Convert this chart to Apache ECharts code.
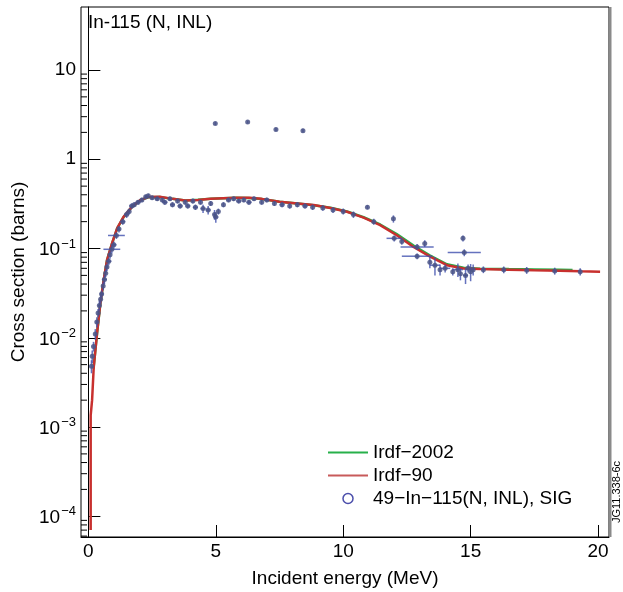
<!DOCTYPE html>
<html><head><meta charset="utf-8">
<script src="https://cdn.jsdelivr.net/npm/echarts@6/dist/echarts.min.js"></script>
<style>html,body{margin:0;padding:0;background:#fff}#c{width:623px;height:592px}</style>
</head><body><div id="c"></div>
<script>
// ---- data ----
const irdf90E   = [0.09, 0.09, 0.145, 0.21, 0.34, 0.47, 0.6, 0.73, 0.93, 1.13, 1.38, 1.71, 2.04, 2.35, 2.8, 3.3, 3.8, 4.3, 4.8, 5.3, 5.8, 6.3, 6.8, 7.5, 8.2, 8.84, 9.5, 10.15, 10.8, 11.45, 12.1, 12.76, 13.41, 14.07, 14.72, 15.37, 16.5, 17.5, 18.5, 19.3, 20.08];
const irdf90Sig = [7e-5, 1.35e-3, 2.0e-3, 4.7e-3, 0.0113, 0.0244, 0.0443, 0.074, 0.115, 0.169, 0.226, 0.293, 0.349, 0.377, 0.38, 0.36, 0.345, 0.35, 0.36, 0.365, 0.37, 0.37, 0.36, 0.335, 0.32, 0.307, 0.285, 0.258, 0.222, 0.183, 0.141, 0.104, 0.081, 0.065, 0.0598, 0.0588, 0.058, 0.057, 0.0565, 0.0555, 0.0548];
const irdf2002E   = [0.2, 0.34, 0.47, 0.6, 0.73, 0.93, 1.13, 1.38, 1.71, 2.04, 2.35, 2.8, 3.3, 3.8, 4.3, 4.8, 5.3, 5.8, 6.3, 6.8, 7.5, 8.2, 8.84, 9.5, 10.15, 10.8, 11.45, 12.1, 12.76, 13.41, 14.07, 14.72, 15.37, 16.5, 17.5, 18.5, 19.0];
const irdf2002Sig = [4.5e-3, 0.0112, 0.0242, 0.044, 0.0735, 0.114, 0.168, 0.225, 0.292, 0.348, 0.375, 0.378, 0.36, 0.346, 0.351, 0.361, 0.366, 0.37, 0.369, 0.358, 0.334, 0.319, 0.306, 0.286, 0.26, 0.224, 0.186, 0.145, 0.108, 0.0835, 0.0665, 0.061, 0.0595, 0.0588, 0.0583, 0.0578, 0.0575];
// experimental points: energy, cross section, energy half-width, sigma error
const expE    = [0.12, 0.15, 0.2, 0.27, 0.33, 0.38, 0.43, 0.48, 0.52, 0.58, 0.63, 0.68, 0.73, 0.8, 0.85, 0.92, 1.0, 1.1, 1.2, 1.35, 1.5, 1.6, 1.7, 1.8, 1.95, 2.1, 2.25, 2.35,
                 2.5, 2.7, 2.9, 3.0, 3.2, 3.3, 3.5, 3.6, 3.8, 3.9, 4.1, 4.2, 4.4, 4.5, 4.7, 4.8, 4.95, 5.0, 5.1, 5.3, 5.5, 5.7, 5.9, 6.1, 6.3, 6.5, 6.8, 7.0, 7.3, 7.6, 7.9, 8.2, 8.5, 8.8, 9.2, 9.6, 10.0, 10.4,
                 10.95, 11.2, 11.97, 12.0, 12.3, 12.9, 12.9, 13.2, 13.4, 13.6, 13.8, 14.0, 14.3, 14.5, 14.6, 14.7, 14.75, 14.8, 14.9, 15.0, 15.1, 15.5, 16.3, 17.2, 18.3, 19.3,
                 4.98, 6.25, 7.36, 8.42];
const expSig  = [0.0048, 0.0062, 0.008, 0.011, 0.015, 0.019, 0.023, 0.027, 0.031, 0.038, 0.045, 0.053, 0.062, 0.072, 0.085, 0.098, 0.11, 0.14, 0.165, 0.2, 0.24, 0.26, 0.3, 0.31, 0.33, 0.35, 0.38, 0.39,
                 0.37, 0.36, 0.35, 0.33, 0.36, 0.31, 0.34, 0.30, 0.33, 0.30, 0.34, 0.29, 0.33, 0.28, 0.27, 0.32, 0.24, 0.225, 0.26, 0.31, 0.35, 0.36, 0.34, 0.35, 0.33, 0.36, 0.33, 0.35, 0.32, 0.31, 0.30, 0.31, 0.30, 0.29, 0.285, 0.27, 0.26, 0.24,
                 0.29, 0.2, 0.215, 0.13, 0.12, 0.104, 0.082, 0.114, 0.07, 0.065, 0.058, 0.06, 0.055, 0.058, 0.052, 0.13, 0.09, 0.05, 0.06, 0.055, 0.058, 0.058, 0.058, 0.057, 0.056, 0.055,
                 2.52, 2.61, 2.16, 2.09];
const expDE   = [0, 0, 0, 0, 0.05, 0, 0.06, 0, 0.08, 0, 0.1, 0, 0.05, 0.1, 0, 0.33, 0.1, 0.33, 0.05, 0.1, 0.1, 0, 0.1, 0, 0.1, 0, 0.05, 0,
                 0, 0.1, 0, 0.1, 0, 0.1, 0, 0.1, 0, 0.1, 0, 0.1, 0, 0.1, 0.1, 0, 0.05, 0.1, 0, 0, 0.1, 0, 0.1, 0, 0.1, 0, 0, 0.1, 0, 0.1, 0, 0, 0.1, 0, 0, 0, 0, 0,
                 0, 0, 0, 0.3, 0, 0.65, 0.6, 0, 0, 0.2, 0, 0.2, 0, 0.2, 0, 0, 0.65, 0.1, 0, 0, 0, 0, 0, 0, 0, 0,
                 0, 0, 0, 0];
const expDSig = [0.0008, 0.001, 0.001, 0.0015, 0.002, 0.002, 0.003, 0.003, 0.003, 0.004, 0.005, 0.005, 0.006, 0.007, 0.008, 0.01, 0.01, 0.012, 0.014, 0.015, 0.02, 0.02, 0.02, 0.02, 0.02, 0.02, 0.02, 0.02,
                 0.02, 0.02, 0.02, 0.02, 0.02, 0.02, 0.02, 0.02, 0.02, 0.02, 0.02, 0.02, 0.02, 0.03, 0.03, 0.02, 0.03, 0.03, 0.02, 0.02, 0.02, 0.02, 0.02, 0.02, 0.02, 0.02, 0.02, 0.02, 0.02, 0.02, 0.02, 0.02, 0.02, 0.02, 0.02, 0.02, 0.02, 0.02,
                 0.015, 0.015, 0.02, 0.01, 0.01, 0.008, 0.006, 0.01, 0.01, 0.015, 0.008, 0.006, 0.005, 0.01, 0.008, 0.01, 0.008, 0.01, 0.006, 0.012, 0.008, 0.005, 0.005, 0.005, 0.005, 0.005,
                 0.1, 0.1, 0.1, 0.1];
// axis ticks
const yDecades = [1e-5, 1e-4, 1e-3, 1e-2, 1e-1, 1];
const yMinorMult = [2, 3, 4, 5, 6, 7, 8, 9];
const X_MIN = -0.29, X_MAX = 20.43, Y_MIN = 5.86e-5, Y_MAX = 50.8;

const FONT = '"Liberation Sans", Arial, Helvetica, sans-serif';
const zip = (a, b) => a.map((v, i) => [v, b[i]]);
const expData = expE.map((e, i) => [e, expSig[i], expDE[i], expDSig[i]]);
const minorData = [];
yDecades.forEach(d => yMinorMult.forEach(m => { const v = d * m; if (v > Y_MIN && v < 10) minorData.push([X_MIN, v]); }));
const LINE_ICON = 'path://M0,0H40V2H0Z';

const chart = echarts.init(document.getElementById('c'), null, {renderer: 'canvas'});
chart.setOption({
  animation: false,
  backgroundColor: '#fff',
  grid: {left: 81, top: 7, right: 14, bottom: 55, containLabel: false, outerBoundsMode: 'none',
         show: true, borderColor: '#000', borderWidth: 1, backgroundColor: 'transparent'},
  xAxis: {
    type: 'value', min: X_MIN, max: X_MAX, splitNumber: 4,
    name: 'Incident energy (MeV)', nameLocation: 'middle', nameGap: 32,
    nameTextStyle: {fontFamily: FONT, fontSize: 19, color: '#000'},
    axisLine: {show: true, onZero: false, lineStyle: {color: '#000', width: 1}},
    axisTick: {show: true, inside: true, length: 12, lineStyle: {color: '#000', width: 1}},
    axisLabel: {show: true, showMinLabel: false, showMaxLabel: false, margin: 5, fontFamily: FONT, fontSize: 19, color: '#000'},
    splitLine: {show: false}
  },
  yAxis: {
    type: 'log', logBase: 10, min: Y_MIN, max: Y_MAX,
    name: 'Cross section (barns)', nameLocation: 'middle', nameGap: 46,
    nameTextStyle: {fontFamily: FONT, fontSize: 19, color: '#000'},
    axisLine: {show: true, lineStyle: {color: '#000', width: 1}},
    axisTick: {show: true, inside: true, length: 12, lineStyle: {color: '#000', width: 1}},
    axisLabel: {
      show: true, showMinLabel: false, showMaxLabel: false, margin: 5,
      formatter: v => {
        const e = Math.round(Math.log10(v));
        if (e === 1) return '{b|10}';
        if (e === 0) return '{b|1}';
        return '{b|10}{s|−' + (-e) + '}';
      },
      rich: {
        b: {fontFamily: FONT, fontSize: 19, color: '#000', verticalAlign: 'bottom'},
        s: {fontFamily: FONT, fontSize: 13, color: '#000', verticalAlign: 'bottom', padding: [0, 0, 9, 1]}
      }
    },
    splitLine: {show: false}
  },
  legend: {
    orient: 'vertical', left: 323, top: 438, itemWidth: 40, itemHeight: 10, itemGap: 4,
    textStyle: {fontFamily: FONT, fontSize: 19, color: '#000'},
    data: [
      {name: 'Irdf−2002', icon: LINE_ICON, itemStyle: {color: '#27b04a', borderWidth: 0}},
      {name: 'Irdf−90', icon: LINE_ICON, itemStyle: {color: '#c85a5a', borderWidth: 0}},
      {name: '49−In−115(N, INL), SIG', icon: 'circle', itemStyle: {color: '#fff', borderColor: '#2b2f9c', borderWidth: 1.5}}
    ]
  },
  graphic: [
    {type: 'text', left: 88, top: 13, style: {text: 'In-115 (N, INL)', font: '19px ' + FONT, fill: '#000'}},
    {type: 'text', x: 622, y: 492, rotation: Math.PI / 2, style: {text: 'JG11.338-6c', font: '11px ' + FONT, fill: '#000', align: 'center', verticalAlign: 'bottom'}},
    {type: 'rect', shape: {x: 609, y: 7, width: 2.5, height: 530}, style: {fill: '#8a8a8a'}}
  ],
  series: [
    {name: 'Irdf−2002', type: 'line', data: zip(irdf2002E, irdf2002Sig), symbol: 'none', z: 2,
     lineStyle: {color: '#27b04a', width: 2.5}, itemStyle: {color: '#27b04a'}},
    {name: 'Irdf−90', type: 'line', data: zip(irdf90E, irdf90Sig), symbol: 'none', z: 3,
     lineStyle: {color: '#c8302e', width: 2.5}, itemStyle: {color: '#c8302e'}},
    {name: 'errbars', type: 'custom', z: 4, data: expData,
     renderItem: (params, api) => {
       const e = api.value(0), s = api.value(1), de = api.value(2), ds = api.value(3);
       const children = [];
       const st = {stroke: '#3f4fae', lineWidth: 1.5, opacity: 0.8};
       if (ds > 0) {
         const a = api.coord([e, Math.max(s - ds, Y_MIN)]), b = api.coord([e, s + ds]);
         children.push({type: 'line', shape: {x1: a[0], y1: a[1], x2: b[0], y2: b[1]}, style: st});
       }
       if (de > 0) {
         const a = api.coord([e - de, s]), b = api.coord([e + de, s]);
         children.push({type: 'line', shape: {x1: a[0], y1: a[1], x2: b[0], y2: b[1]}, style: st});
       }
       return {type: 'group', children};
     }},
    {name: '49−In−115(N, INL), SIG', type: 'scatter', z: 5, data: expData.map(d => [d[0], d[1]]),
     symbol: 'circle', symbolSize: 5, itemStyle: {color: '#4a5486', opacity: 0.85}},
    {name: 'yminor', type: 'custom', z: 6, data: minorData, clip: false,
     renderItem: (params, api) => {
       const p = api.coord([api.value(0), api.value(1)]);
       return {type: 'line', shape: {x1: p[0], y1: p[1], x2: p[0] + 6, y2: p[1]}, style: {stroke: '#000', lineWidth: 1}};
     }}
  ]
});
</script></body></html>
